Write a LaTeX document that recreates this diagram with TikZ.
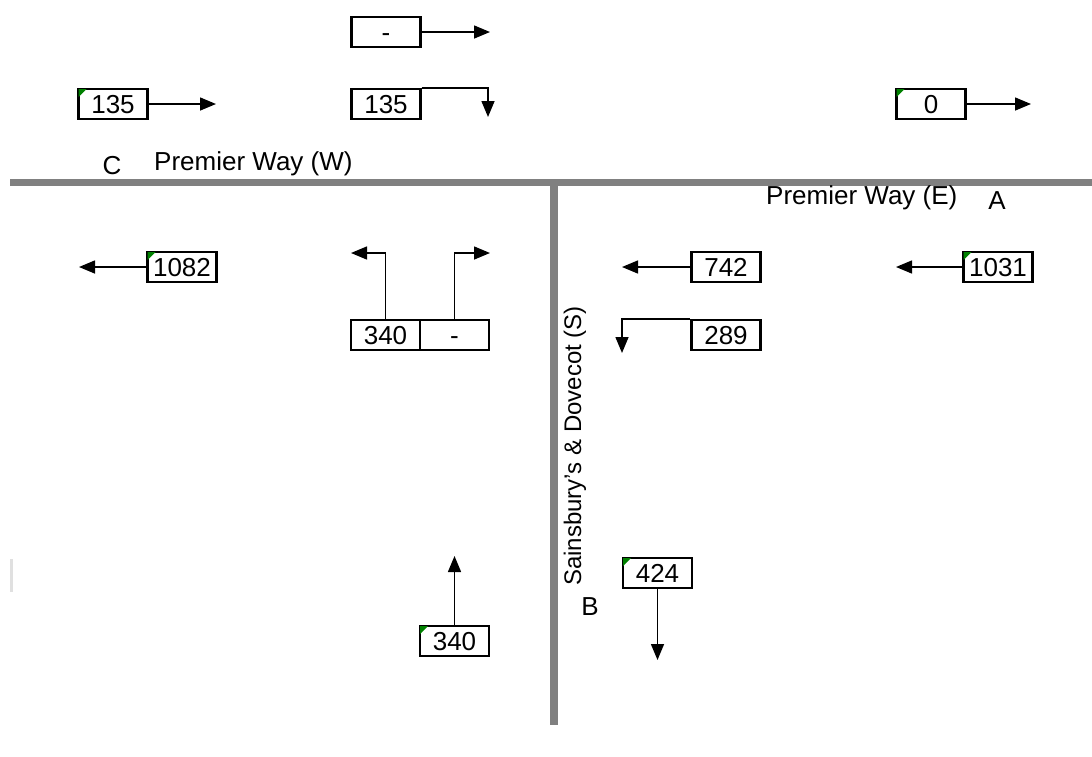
\documentclass[tikz,border=0pt]{standalone}
\usepackage{fontspec}
\setmainfont{Liberation Sans}
\usetikzlibrary{arrows.meta}
\definecolor{road}{HTML}{808080}
\definecolor{corner}{HTML}{008000}
\tikzset{
  cnt/.style={draw, line width=2.2pt, minimum width=69pt, minimum height=30pt, inner sep=0pt, text height=18.5pt, text depth=0pt, font=\fontsize{26}{30}\selectfont},
  lbl/.style={inner sep=0pt, font=\fontsize{26}{30}\selectfont},
  flow/.style={line width=1.5pt, -{Triangle[length=16pt,width=13pt]}},
}
\newcommand{\greencorner}[1]{\fill[corner] (#1.north west) ++(1.1,1.1) -- ++(8,0) -- ++(-8,8) -- cycle;}
\begin{document}
\begin{tikzpicture}[x=1pt,y=-1pt]
\useasboundingbox (0,0) rectangle (1092,756);
% roads
\fill[road] (10,179) rectangle (1092,186);
\fill[road] (550,179) rectangle (558,725);
\fill[black!12] (10,559) rectangle (13,592);
% labels
\node[lbl] (lc) at (112,166) {C};
\node[lbl, anchor=west] (lw) at (154,164) {Premier Way (W)};
\node[lbl, anchor=west] (le) at (766,198) {Premier Way (E)};
\node[lbl] (la) at (997,201) {A};
\node[lbl] (lb) at (590,607) {B};
\node[lbl, rotate=90, font=\fontsize{24}{28}\selectfont] (ls) at (575,446) {Sainsbury's \& Dovecot (S)};
% boxes
\node[cnt] (tdash) at (386,32) {-};
\node[cnt] (t135m) at (386,104) {135};
\node[cnt] (t135l) at (113,104) {135};
\node[cnt] (t0) at (931,104) {0};
\node[cnt] (b1082) at (182,267) {1082};
\node[cnt] (b340a) at (385.5,335) {340};
\node[cnt] (bdash) at (454.5,335) {-};
\node[cnt] (b742) at (726,267) {742};
\node[cnt] (b289) at (726,335) {289};
\node[cnt] (b1031) at (998,267) {1031};
\node[cnt] (b340c) at (454.5,641) {340};
\node[cnt] (b424) at (657.5,573) {424};
\greencorner{t135l}
\greencorner{t0}
\greencorner{b1082}
\greencorner{b1031}
\greencorner{b340c}
\greencorner{b424}
% end coordinates
\coordinate (e1) at (490,32);
\coordinate (e2) at (488,117);
\coordinate (e3) at (216,104);
\coordinate (e4) at (1031,104);
\coordinate (e5) at (79,267);
\coordinate (e6) at (351,253);
\coordinate (e7) at (490,253);
\coordinate (e8) at (622,267);
\coordinate (e9) at (622,353);
\coordinate (e10) at (896,267);
\coordinate (e11) at (454.5,556);
\coordinate (e12) at (657.5,660);
% connectors
\draw[flow] (tdash.east) -- (e1);
\draw[flow] (t135m.north east) -| (e2);
\draw[flow] (t135l.east) -- (e3);
\draw[flow] (t0.east) -- (e4);
\draw[flow] (b1082.west) -- (e5);
\draw[flow] (b340a.north) |- (e6);
\draw[flow] (bdash.north) |- (e7);
\draw[flow] (b742.west) -- (e8);
\draw[flow] (b289.north west) -| (e9);
\draw[flow] (b1031.west) -- (e10);
\draw[flow] (b340c.north) -- (e11);
\draw[flow] (b424.south) -- (e12);
\end{tikzpicture}
\end{document}
